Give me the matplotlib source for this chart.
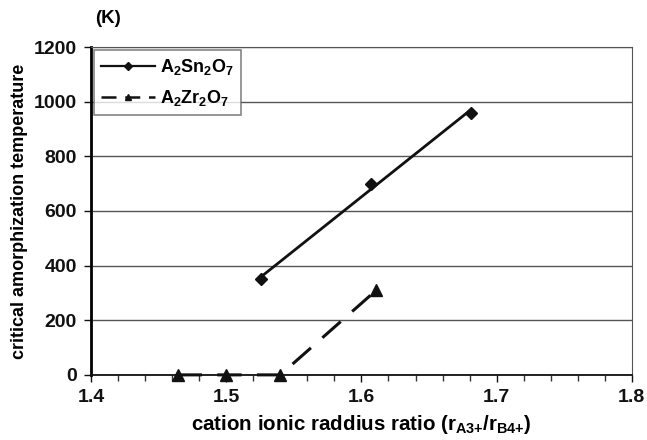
import matplotlib
matplotlib.use('Agg')
import matplotlib.pyplot as plt
import numpy as np
from matplotlib.ticker import MultipleLocator

plt.rcParams['font.family'] = ['Liberation Sans', 'DejaVu Sans']
plt.rcParams['font.weight'] = 'bold'
plt.rcParams['mathtext.fontset'] = 'custom'
plt.rcParams['mathtext.rm'] = 'Liberation Sans:bold'
plt.rcParams['mathtext.it'] = 'Liberation Sans:bold'
plt.rcParams['mathtext.bf'] = 'Liberation Sans:bold'

# data
sn_x = [1.526, 1.607, 1.681]
sn_y = [350, 700, 960]
zr_x = [1.464, 1.500, 1.540, 1.611]
zr_y = [0, 0, 0, 310]

fig = plt.figure(figsize=(6.47, 4.4), dpi=100)
ax = fig.add_axes([0.1406, 0.148, 0.836, 0.745])

# Sn series: markers plus linear trendline
coef = np.polyfit(sn_x, sn_y, 1)
fx = np.array([min(sn_x), max(sn_x)])
ax.plot(fx, np.polyval(coef, fx), color='#111111', lw=2.0, zorder=3)
ax.plot(sn_x, sn_y, ls='none', marker='D', ms=6.5, color='#111111', zorder=4)

ax.plot(zr_x, zr_y, color='#111111', lw=2.2, ls=(0, (8, 5)), marker='^', ms=8,
        zorder=4, clip_on=False)

# legend proxies
ax.plot([], [], color='#111111', lw=1.6, marker='D', ms=4, label=r'$\mathregular{A_2Sn_2O_7}$')
ax.plot([], [], color='#111111', lw=1.8, ls=(0, (6, 3.5)), marker='^', ms=5,
        label=r'$\mathregular{A_2Zr_2O_7}$')

ax.set_xlim(1.4, 1.8)
ax.set_ylim(0, 1200)
ax.xaxis.set_minor_locator(MultipleLocator(0.02))
ax.yaxis.set_major_locator(MultipleLocator(200))
ax.set_xticks([1.4, 1.5, 1.6, 1.7, 1.8])
ax.set_xticklabels(['1.4', '1.5', '1.6', '1.7', '1.8'])

ax.yaxis.grid(True, color='#555555', lw=1.0)
ax.set_axisbelow(True)
ax.tick_params(axis='both', which='major', direction='out', length=5,
               labelsize=14, width=1, colors='#111111', pad=5)
ax.tick_params(axis='x', which='minor', direction='out', length=4, width=1, color='#333333')

ax.spines['left'].set_linewidth(2.0)
ax.spines['left'].set_color('#000000')
ax.spines['bottom'].set_linewidth(1.3)
ax.spines['bottom'].set_color('#111111')
ax.spines['right'].set_color('#555555')
ax.spines['top'].set_color('#555555')

ax.set_xlabel(r'cation ionic raddius ratio (r$_{\mathregular{A3{+}}}$/r$_{\mathregular{B4{+}}}$)',
              fontsize=14.8, fontweight='bold', labelpad=5)
ax.set_ylabel('critical amorphization temperature', fontsize=13,
              fontweight='bold', labelpad=4)
fig.text(0.167, 0.958, '(K)', fontsize=13.5, fontweight='bold', ha='center', va='center')

leg = ax.legend(loc='upper left', bbox_to_anchor=(0.0, 1.0), fontsize=13,
                frameon=True, fancybox=False, edgecolor='#666666', handlelength=3.0,
                borderpad=0.4, labelspacing=0.6, handletextpad=0.25, borderaxespad=0.15)
leg.get_frame().set_linewidth(1.2)

fig.savefig('out.png', dpi=100)
